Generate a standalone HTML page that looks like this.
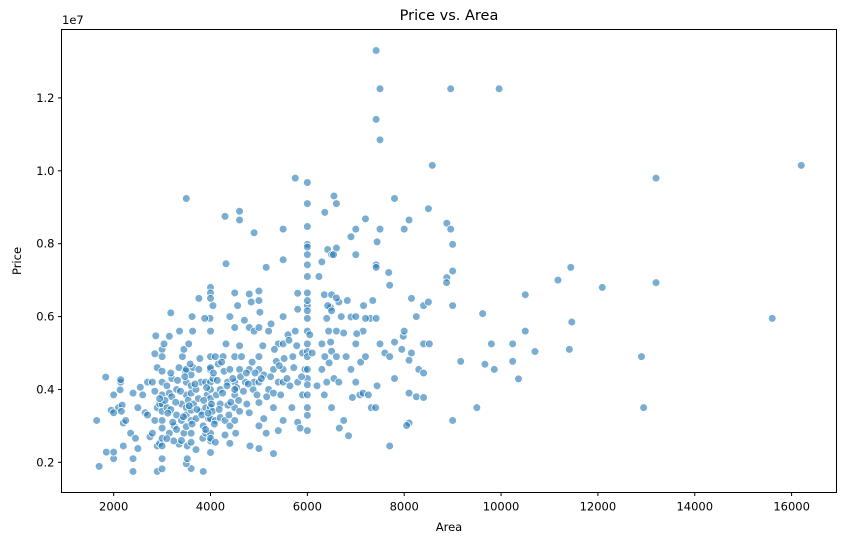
<!DOCTYPE html>
<html><head><meta charset="utf-8"><style>
body{margin:0;background:#fff;}
svg{display:block;font-family:"DejaVu Sans","Liberation Sans",sans-serif;}
</style></head><body>
<svg id="chart" width="846" height="545">
<text x="449" y="20" text-anchor="middle" font-size="14.5">Price vs. Area</text>
<text x="62" y="24" font-size="11.5">1e7</text>
<text x="449" y="531" text-anchor="middle" font-size="11.5">Area</text>
<text x="21" y="261" text-anchor="middle" font-size="11.5" transform="rotate(-90 21 261)">Price</text>
<g id="points"></g>
<rect x="61.5" y="29.5" width="775" height="463" fill="none" stroke="#000" stroke-width="1"/>
<g id="xticks"></g>
<g id="yticks"></g>
</svg>
<script>
const xTicks=[2000,4000,6000,8000,10000,12000,14000,16000];
const yTicks=[0.2,0.4,0.6,0.8,1.0,1.2];
const yTickLabels=["0.2","0.4","0.6","0.8","1.0","1.2"];
const areas=[7420,8960,9960,7500,7420,7500,8580,16200,13200,5750,6000,6550,3500,6600,7800,8500,6000,4600,6360,4300,4600,7200,8100,8880,4900,6000,5500,7000,7500,8000,8960,6900,7440,9000,6000,6000,6420,6600,6500,6000,7000,5500,4320,6540,6300,7420,7420,7680,8880,9000,11440,11175,13200,12090,10500,8875,7700,5150,4000,4000,3760,4500,4800,5000,5000,4560,4050,3180,3620,3990,5800,6000,6480,6350,6500,6650,5800,6700,6900,7160,7300,7350,7150,8150,8400,8250,8500,9000,9620,10500,11460,15600,9800,10240,10700,11410,12900,9166,9667,9860,10360,10240,9500,12944,9000,8100,8050,7700,6850,5300,3850,2400,2900,3000,3600,1700,3500,2000,2400,3000,1850,2000,4000,5000,4000,2200,3350,
1650,1836,1950,2000,2100,2145,2145,2135,2175,2160,2000,2200,2250,2350,2400,2450,2500,2550,2600,2500,2650,2700,2700,2750,2800,2800,2850,2870,2850,2900,2900,2950,2950,2900,3000,3000,3000,3000,3000,3000,3000,3000,3000,3000,3000,3040,3100,3100,3150,3150,3150,3180,3200,3200,3240,3250,3300,3300,3350,3360,3400,3400,3420,3450,3450,3480,3500,3500,3500,3500,3500,3500,3520,3520,3540,3550,3600,3600,3600,3600,3600,3600,3600,3630,3640,3650,3700,3700,3750,3760,3800,3800,3840,3850,3880,3900,3900,3900,3930,3960,3990,4000,4000,4000,4000,4000,4000,4000,4000,4000,4000,4000,4040,4050,4100,4100,4120,4160,4200,4200,4200,4260,4280,4300,4320,4350,4360,4400,4400,4400,4400,4500,4500,4500,4500,4500,4500,4520,4600,4600,4600,4640,4700,4720,4750,4800,4800,4800,4815,4840,4880,4900,4900,4960,5000,5000,5000,5000,5000,5000,5020,5100,5100,5150,5200,5200,5250,5300,5300,5300,5360,5400,5400,5400,5450,5500,5500,5500,5500,5500,5600,5640,5680,5700,5750,5800,5800,5850,5900,5900,5950,6000,6000,6000,6000,6000,6000,6000,6000,6000,6000,6000,6000,6000,6000,6000,6000,6000,6050,6100,6200,6240,6300,6300,6350,6360,6400,6400,6420,6440,6450,6480,6500,6500,6500,6550,6600,6600,6600,6650,6660,6750,6750,6800,6825,6900,6930,7000,7000,7000,7020,7085,7100,7150,7200,7200,7260,7320,7410,7420,7440,7500,7600,7700,7800,7800,7950,7980,8000,8100,8100,8150,8250,8300,8400,8400,8520,8400,
3060,3120,3180,3220,3280,3320,3380,3440,3470,3560,3580,3620,3680,3720,3780,3820,3860,3920,3950,4020,4060,4080,4140,4180,4230,4250,4340,4380,4420,4460,4540,4580,4620,4680,4740,4780,4860,4920,5050,5080,5160,5240,5320,5420,5520,5580,5620,5720,5780,5880,2950,2850,3100,3300,3400,3700,3900,4100,4300,4500];
const prices=[13.3,12.25,12.25,12.25,11.41,10.85,10.15,10.15,9.8,9.8,9.68,9.31,9.24,9.1,9.24,8.96,9.1,8.89,8.86,8.75,8.65,8.68,8.65,8.56,8.3,8.47,8.4,8.4,8.4,8.4,8.4,8.19,8.05,7.98,7.98,7.91,7.84,7.88,7.7,7.7,7.7,7.56,7.45,7.7,7.5,7.42,7.35,7.21,7.07,7.25,7.35,7.0,6.93,6.8,6.6,6.93,6.86,7.35,6.8,6.65,6.5,6.65,6.62,6.7,6.44,6.3,6.3,6.1,6.0,5.95,6.2,6.3,6.25,6.6,6.6,6.4,6.64,6.0,5.99,6.3,5.95,6.44,5.6,6.5,6.3,6.0,6.4,6.3,6.08,5.6,5.85,5.95,5.25,5.25,5.04,5.1,4.9,4.77,4.69,4.55,4.29,4.77,3.5,3.5,3.15,3.08,3.01,2.45,2.73,2.24,1.75,1.75,1.75,1.82,1.83,1.89,1.96,2.1,2.1,2.1,2.28,2.28,2.27,2.38,2.59,2.45,2.5,
3.15,4.34,3.43,3.85,3.5,4.2,4.27,3.99,3.57,3.4,3.36,3.08,3.15,2.8,3.9,2.66,3.5,4.06,3.85,2.38,3.36,3.3,4.2,2.7,2.8,4.2,3.15,5.47,4.98,2.45,3.5,2.52,3.6,4.6,5.1,4.9,4.5,4.2,3.85,3.6,3.4,3.15,2.94,2.66,2.45,5.25,3.5,4.1,3.9,2.8,5.46,3.45,3.8,4.3,2.59,3.0,3.3,4.0,4.6,5.6,3.6,3.15,4.9,5.1,2.8,4.5,4.2,3.5,3.85,3.3,2.98,4.55,2.45,2.1,3.7,5.25,4.4,4.1,3.9,3.43,3.15,2.8,2.55,5.6,4.6,3.6,3.2,4.0,3.75,4.55,4.2,3.4,2.66,3.0,5.95,4.2,3.5,2.8,3.85,3.2,4.55,6.5,5.6,4.9,4.6,4.2,4.0,3.75,3.5,3.2,2.8,2.66,3.4,4.3,4.9,3.15,3.85,4.7,4.0,3.6,3.23,4.9,4.5,3.15,5.25,4.2,3.57,4.55,2.52,3.0,6.0,5.7,4.9,4.2,3.85,3.5,3.15,2.8,4.55,3.4,5.2,4.9,5.9,4.2,3.6,3.36,4.55,5.7,2.45,6.4,4.0,5.6,4.2,3.85,5.7,4.9,4.55,4.2,3.64,3.0,6.12,4.4,3.2,2.8,5.6,4.0,5.8,4.55,3.9,3.5,4.77,5.25,4.2,2.87,3.85,6.0,5.25,4.55,4.2,3.15,5.5,4.1,3.5,4.9,5.6,4.2,3.1,2.94,3.85,5.0,4.55,7.42,7.1,6.65,6.44,6.16,5.95,5.6,5.25,5.04,4.9,4.55,4.3,4.13,3.85,3.5,3.29,2.87,5.5,5.0,4.1,7.1,5.25,4.55,3.85,4.9,5.95,4.2,6.3,5.6,4.73,5.3,6.16,5.05,3.5,4.3,5.6,4.9,6.51,4.2,2.94,3.15,5.55,4.9,6.44,4.55,3.78,6.0,5.25,4.2,5.53,3.85,4.75,3.9,5.95,4.9,3.85,3.5,3.5,5.95,4.1,5.25,5.0,4.9,5.3,4.3,5.1,5.46,5.6,4.8,3.9,5.0,3.8,4.55,4.45,5.25,5.25,3.78,
3.7,3.35,4.45,3.1,3.65,4.25,3.95,3.25,4.35,3.55,4.7,3.05,4.15,3.45,4.85,3.3,3.7,4.05,3.35,3.6,4.45,3.05,4.25,3.45,4.75,3.9,4.1,3.3,3.65,4.3,4.05,3.7,4.35,3.95,4.45,4.15,4.75,4.45,4.3,5.2,3.8,4.35,5.1,4.65,4.85,4.3,5.35,4.6,5.2,4.35,3.75,3.95,2.65,2.9,2.6,2.35,2.9,2.55,2.75,4.0];
const NS='http://www.w3.org/2000/svg';
const X0=61.5,X1=836.5,Y0=29.5,Y1=492.5;
const xMin=923,xMax=16927,yMin=0.11725,yMax=1.38775;
function xs(v){return X0+(v-xMin)/(xMax-xMin)*(X1-X0);}
function ys(v){return Y1-(v-yMin)/(yMax-yMin)*(Y1-Y0);}
const gp=document.getElementById('points');
for(let i=0;i<areas.length;i++){
  const c=document.createElementNS(NS,'circle');
  c.setAttribute('cx',xs(areas[i]).toFixed(2));
  c.setAttribute('cy',ys(prices[i]/10).toFixed(2));
  c.setAttribute('r','3.9');
  c.setAttribute('fill','#1f77b4');
  c.setAttribute('fill-opacity','0.6');
  c.setAttribute('stroke','#fff');
  c.setAttribute('stroke-width','0.8');
  
  
  gp.appendChild(c);
}
const gx=document.getElementById('xticks');
xTicks.forEach(t=>{
  const x=xs(t);
  const l=document.createElementNS(NS,'line');
  l.setAttribute('x1',x);l.setAttribute('x2',x);l.setAttribute('y1',Y1);l.setAttribute('y2',Y1+3.5);
  l.setAttribute('stroke','#000');
  
  
  gx.appendChild(l);
  const tx=document.createElementNS(NS,'text');
  tx.setAttribute('x',x);tx.setAttribute('y',Y1+18);
  tx.setAttribute('text-anchor','middle');tx.setAttribute('font-size','11.5');
  tx.textContent=String(t);
  
  
  gx.appendChild(tx);
});
const gy=document.getElementById('yticks');
yTicks.forEach((t,i)=>{
  const y=ys(t);
  const l=document.createElementNS(NS,'line');
  l.setAttribute('x1',X0-3.5);l.setAttribute('x2',X0);l.setAttribute('y1',y);l.setAttribute('y2',y);
  l.setAttribute('stroke','#000');
  
  
  gy.appendChild(l);
  const tx=document.createElementNS(NS,'text');
  tx.setAttribute('x',X0-7);tx.setAttribute('y',y+4);
  tx.setAttribute('text-anchor','end');tx.setAttribute('font-size','11.5');
  tx.textContent=yTickLabels[i];
  
  
  gy.appendChild(tx);
});
</script>
</body></html>
